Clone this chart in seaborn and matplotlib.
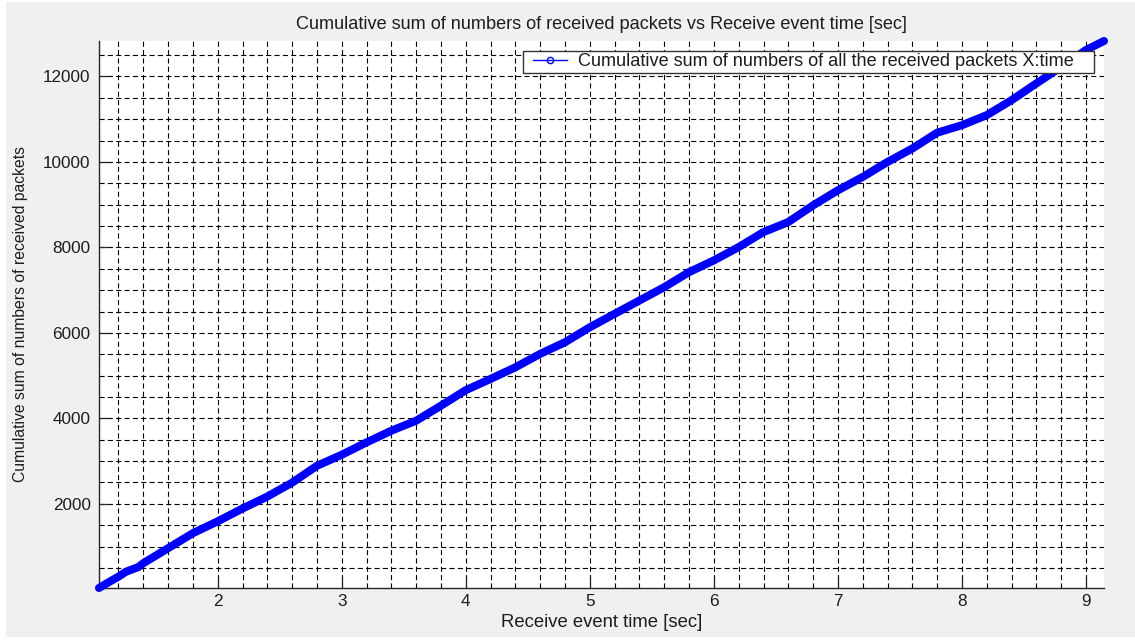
import matplotlib
matplotlib.use("Agg")
import matplotlib.pyplot as plt
from matplotlib.patches import Rectangle
from matplotlib.lines import Line2D
from matplotlib.ticker import MultipleLocator
import seaborn as sns
import pandas as pd

# Receive event time [sec] and running total of received packets
time_sec = [1.043, 1.10, 1.20, 1.26, 1.36, 1.40, 1.60, 1.80, 2.00, 2.20, 2.40, 2.60,
            2.80, 3.00, 3.20, 3.40, 3.60, 3.80, 4.00, 4.20, 4.40, 4.60, 4.80, 5.00,
            5.20, 5.40, 5.60, 5.80, 6.00, 6.20, 6.40, 6.60, 6.80, 7.00, 7.20, 7.40,
            7.60, 7.80, 8.00, 8.20, 8.40, 8.60, 8.70, 8.80, 9.00, 9.145]
cum_packets = [30, 130, 296, 410, 520, 610, 961, 1313, 1590, 1890, 2170, 2495,
               2890, 3148, 3437, 3711, 3945, 4297, 4660, 4923, 5195, 5509, 5781, 6132,
               6446, 6758, 7070, 7422, 7696, 8008, 8359, 8594, 8985, 9337, 9649, 10000,
               10314, 10684, 10860, 11095, 11446, 11838, 12030, 12227, 12620, 12830]

x_ticks = [2, 3, 4, 5, 6, 7, 8, 9]
y_ticks = [2000, 4000, 6000, 8000, 10000, 12000]

title_text = "Cumulative sum of numbers of received packets vs Receive event time [sec]"
x_label = "Receive event time [sec]"
y_label = "Cumulative sum of numbers of received packets"
legend_label = "Cumulative sum of numbers of all the received packets X:time"

plt.rcParams["font.family"] = ["Liberation Sans", "DejaVu Sans"]
text_color = "#1c1c1c"
blue = "#0000ff"

W, H = 1135, 640
fig = plt.figure(figsize=(W / 100, H / 100), dpi=100)
fig.patch.set_facecolor("white")
fig.patches.append(Rectangle((6 / W, 3 / H), 1 - 6 / W, 1 - 5 / H,
                             transform=fig.transFigure, facecolor="#f0f0f0",
                             edgecolor="none", zorder=-10))

ax_left, ax_bottom, ax_w, ax_h = 99, 52, 1005, 547
ax = fig.add_axes([ax_left / W, ax_bottom / H, ax_w / W, ax_h / H])
ax.set_facecolor("white")

df = pd.DataFrame({"t": time_sec, "n": cum_packets})
sns.lineplot(data=df, x="t", y="n", ax=ax, color=blue, lw=5.8, sort=False,
             estimator=None, legend=False, solid_capstyle="round",
             solid_joinstyle="round", clip_on=False, zorder=3)

ax.set_xlim(time_sec[0], time_sec[-1])
ax.set_ylim(cum_packets[0], cum_packets[-1])
ax.set_xticks(x_ticks)
ax.set_yticks(y_ticks)
ax.set_xticklabels([str(v) for v in x_ticks])
ax.set_yticklabels([str(v) for v in y_ticks])
ax.xaxis.set_minor_locator(MultipleLocator(0.2))
ax.yaxis.set_minor_locator(MultipleLocator(500))

ax.grid(which="both", color="black", lw=0.8, linestyle=(0, (4.6, 2.9)))

ax.tick_params(which="major", direction="in", length=7, width=0.9,
               color="#262626", labelsize=12.3, labelcolor=text_color)
ax.tick_params(axis="x", which="major", pad=4.5)
ax.tick_params(axis="y", which="major", pad=6)
ax.tick_params(which="minor", length=0)

for side in ("top", "right"):
    ax.spines[side].set_visible(False)
for side in ("left", "bottom"):
    ax.spines[side].set_color("#262626")
    ax.spines[side].set_linewidth(1.0)

ax.set_title(title_text, fontsize=13.1, color=text_color, pad=8.6)
ax.set_xlabel(x_label, fontsize=13.3, color=text_color)
ax.set_ylabel(y_label, fontsize=11.3, color=text_color)
ax.xaxis.set_label_coords(0.5, -0.047)
ax.yaxis.set_label_coords(-0.071, 0.5)

# Legend frame drawn as a flat box, entries placed inside it
def to_axes(px, py):
    return (px - ax_left) / ax_w, ((H - ax_bottom) - py) / ax_h

bx0, by0 = to_axes(523, 73.3)
bx1, by1 = to_axes(1094, 50.7)
ax.add_patch(Rectangle((bx0, by0), bx1 - bx0, by1 - by0, transform=ax.transAxes,
                       facecolor="white", edgecolor="#333333", lw=1.0,
                       zorder=4.5, clip_on=False))

handle = Line2D([], [], color=blue, lw=1.0, marker="o", ms=4.5, mfc="none", mec=blue)
lx, ly = to_axes(533, 62)
leg = ax.legend([handle], [legend_label], loc="center left",
                bbox_to_anchor=(lx, ly), borderaxespad=0, borderpad=0,
                fontsize=13.1, frameon=False, handlelength=1.88,
                handletextpad=0.59)
leg.set_zorder(5)
for t in leg.get_texts():
    t.set_color(text_color)

fig.savefig("out.png", dpi=100, facecolor=fig.get_facecolor())
